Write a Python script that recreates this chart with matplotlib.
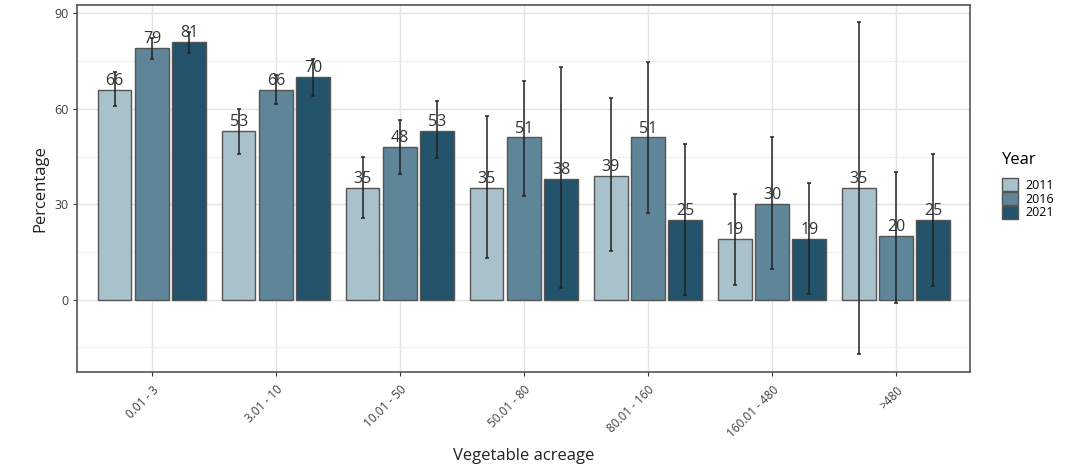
import numpy as np
import matplotlib.pyplot as plt
from matplotlib.patches import Patch

# Data.
categories = ['0.01 - 3', '3.01 - 10', '10.01 - 50', '50.01 - 80',
              '80.01 - 160', '160.01 - 480', '>480']
years = ['2011', '2016', '2021']
values = {
    '2011': [66, 53, 35, 35, 39, 19, 35],
    '2016': [79, 66, 48, 51, 51, 30, 20],
    '2021': [81, 70, 53, 38, 25, 19, 25],
}
err_low = {
    '2011': [60.8, 45.9, 25.8, 13.1, 15.4, 4.6, -17.1],
    '2016': [75.8, 61.4, 39.6, 32.5, 27.2, 9.7, -1.0],
    '2021': [77.7, 64.2, 44.6, 3.7, 1.6, 1.7, 4.2],
}
err_high = {
    '2011': [71.5, 60.1, 44.8, 57.7, 63.4, 33.1, 87.4],
    '2016': [82.2, 70.6, 56.4, 68.9, 74.6, 51.0, 40.2],
    '2021': [84.3, 75.8, 62.4, 73.2, 48.8, 36.8, 45.9],
}
colors = {'2011': '#a9c1ca', '2016': '#5f8599', '2021': '#23536a'}

plt.rcParams['font.family'] = ['Open Sans', 'DejaVu Sans']

fig = plt.figure(figsize=(10.85, 4.70), dpi=100)
ax = fig.add_axes([0.0714, 0.208, 0.823, 0.781])

x = np.arange(len(categories))
offsets = [-0.3, 0.0, 0.3]
for yr, off in zip(years, offsets):
    v = np.array(values[yr])
    lo = np.array(err_low[yr])
    hi = np.array(err_high[yr])
    ax.bar(x + off, v, width=0.27, color=colors[yr], edgecolor='#555555',
           linewidth=1.0, zorder=2)
    ax.errorbar(x + off, v, yerr=[v - lo, hi - v], fmt='none',
                ecolor='#222222', elinewidth=1.1, capsize=1.5,
                capthick=1.1, zorder=3)
    for xi, vi in zip(x + off, v):
        ax.text(xi, vi + 0.3, f'{vi}', ha='center', va='bottom',
                fontsize=11.5, color='#333333', zorder=4)

ax.set_xlim(-0.6, 6.6)
ax.set_ylim(-22.8, 92.6)
ax.set_yticks([0, 30, 60, 90])
ax.set_yticks([-15, 15, 45, 75], minor=True)
ax.set_xticks(x)
ax.set_xticklabels(categories, rotation=45, ha='right', rotation_mode='anchor',
                   fontsize=8.5, color='#3d3d3d')
ax.tick_params(axis='y', labelsize=9, colors='#3d3d3d', length=3, color='#333333')
ax.tick_params(axis='x', length=3, color='#333333', pad=5)
ax.tick_params(axis='y', which='minor', length=0)

ax.grid(True, which='major', color='#e3e3e3', linewidth=1.0, zorder=0)
ax.grid(True, which='minor', axis='y', color='#f0f0f0', linewidth=0.8, zorder=0)
ax.set_axisbelow(True)
for sp in ax.spines.values():
    sp.set_color('#555555')
    sp.set_linewidth(1.2)

ax.set_ylabel('Percentage', fontsize=12, color='#222222')
ax.set_xlabel('Vegetable acreage', fontsize=12, color='#222222', labelpad=6)

handles = [Patch(facecolor=colors[yr], edgecolor='#555555', label=yr) for yr in years]
leg = fig.legend(handles=handles, title='Year', loc='upper left',
                 bbox_to_anchor=(0.913, 0.70), frameon=False, fontsize=9,
                 title_fontsize=12, handlelength=1.3, handleheight=1.25,
                 labelspacing=0.0, handletextpad=0.6)
leg._legend_box.align = 'left'
leg._legend_box.sep = 7

fig.savefig('out.png', dpi=100)
